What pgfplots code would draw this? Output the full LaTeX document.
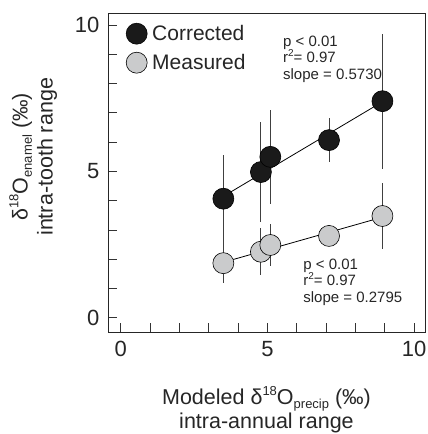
\documentclass[border=0pt]{standalone}
\usepackage{fontspec}
\setmainfont{Liberation Sans}
\usepackage{pgfplots}
\pgfplotsset{compat=1.18}
\definecolor{corr}{HTML}{1A1A1A}
\definecolor{meas}{HTML}{CACBCC}
\definecolor{bar}{HTML}{404040}
\newcommand\sups[1]{\raisebox{0.42em}{\fontsize{13}{13}\selectfont #1}}
\newcommand\subs[1]{\raisebox{-0.2em}{\fontsize{13}{13}\selectfont #1}}

\begin{document}
\begin{tikzpicture}
\useasboundingbox (0,0) rectangle (428pt,434pt);
\begin{axis}[
    at={(108pt,102pt)}, anchor=south west,
    scale only axis, width=317pt, height=319pt,
    xmin=-0.43, xmax=10.37, ymin=-0.48, ymax=10.41,
    xtick={0,5,10}, ytick={0,5,10},
    minor xtick={1,2,3,4,6,7,8,9}, minor ytick={1,2,3,4,6,7,8,9},
    tick pos=left, tick align=inside,
    major tick length=9pt, minor tick length=9pt,
    tick style={line width=0.9pt, color=black!80},
    axis line style={line width=0.9pt, color=black!85},
    /pgf/number format/assume math mode=true,
    tick label style={font=\fontsize{22}{22}\selectfont, color=black!85},
    xticklabel style={yshift=-6pt},
    yticklabel style={xshift=-5pt},
    xlabel={Modeled δ\sups{18}O\subs{precip} (‰)\\[1pt]intra-annual range},
    ylabel={δ\sups{18}O\subs{enamel} (‰)\\[2pt]intra-tooth range},
    xlabel style={at={(axis description cs:0.5,0)}, anchor=north, yshift=-54pt,
      align=center, inner sep=0pt, font=\fontsize{21.5}{23}\selectfont, color=black!85},
    ylabel style={at={(axis description cs:-0.236,0.549)}, anchor=center,
      align=center, inner sep=0pt, font=\fontsize{21.5}{23}\selectfont, color=black!85},
    legend style={at={(axis description cs:0.0,1.0)}, anchor=north west,
      draw=none, fill=none, font=\fontsize{21}{21}\selectfont,
      row sep=8pt, xshift=15pt, yshift=-8pt,
      nodes={inner xsep=5pt, text=black!85}},
    legend cell align=left,
    error bars/y dir=both, error bars/y explicit,
  ]
% fitted lines
\addplot[black, line width=0.8pt, forget plot] coordinates {(3.50,4.15) (8.92,7.38)};
\addplot[black, line width=0.8pt, forget plot] coordinates {(3.50,1.90) (8.92,3.44)};
% corrected
\addplot[only marks, mark=*, mark size=10.5pt,
  mark options={fill=corr, draw=black, line width=0.6pt},
  error bars/error bar style={line width=1pt, color=bar},
  error bars/error mark=none]
  coordinates {
    (3.50,4.07) +- (0,1.50)
    (4.78,4.98) +- (0,1.72)
    (5.10,5.50) +- (0,1.60)
    (7.10,6.07) +- (0,0.74)
    (8.92,7.40) +- (0,2.31)
  };
% measured
\addplot[only marks, mark=*, mark size=10.5pt,
  mark options={fill=meas, draw=black, line width=0.6pt},
  error bars/error bar style={line width=1pt, color=bar},
  error bars/error mark=none]
  coordinates {
    (3.50,1.87) +- (0,0.68)
    (4.78,2.26) +- (0,0.80)
    (5.10,2.49) +- (0,0.72)
    (7.10,2.80) +- (0,0.25)
    (8.92,3.48) +- (0,1.11)
  };
\legend{Corrected, Measured}
\node[anchor=north west, align=left, inner sep=0pt, font=\fontsize{15}{16.5}\selectfont, color=black!85]
  at (axis cs:5.53,9.64) {p < 0.01\\r\sups{\fontsize{10}{10}\selectfont 2}= 0.97\\slope = 0.5730};
\node[anchor=north west, align=left, inner sep=0pt, font=\fontsize{15}{16.5}\selectfont, color=black!85]
  at (axis cs:6.22,2.03) {p < 0.01\\r\sups{\fontsize{10}{10}\selectfont 2}= 0.97\\slope = 0.2795};
\end{axis}
\end{tikzpicture}
\end{document}
